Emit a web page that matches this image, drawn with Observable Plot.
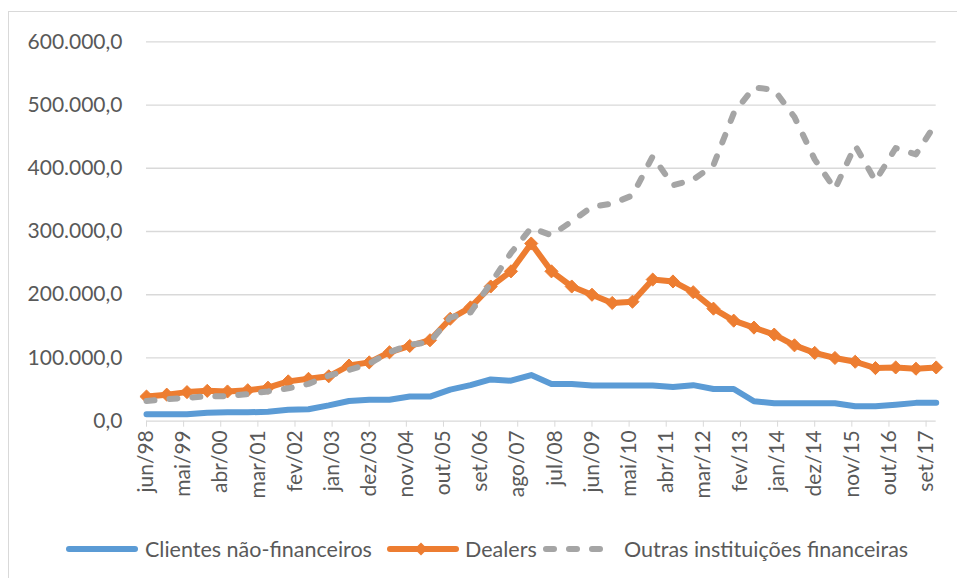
<!DOCTYPE html>
<html><head><meta charset="utf-8">
<script src="https://cdn.jsdelivr.net/npm/d3@7"></script>
<script src="https://cdn.jsdelivr.net/npm/@observablehq/plot@0.6"></script>
<style>
body{margin:0;background:#fff;font-family:Lato,sans-serif;width:957px;height:578px;overflow:hidden;position:relative;}
#frame{position:absolute;left:8px;top:11px;width:1000px;height:700px;border:1px solid #d9d9d9;box-sizing:border-box;}
#chart{position:absolute;left:0;top:0;}
#legend{position:absolute;top:533px;left:0;width:957px;height:32px;font-family:Lato,sans-serif;font-size:21.5px;color:#595959;}
#legend .it{position:absolute;top:0;height:32px;line-height:32px;white-space:nowrap;}
#legend svg{position:absolute;top:0;}
</style></head>
<body>
<div id="frame"></div>
<div id="chart"></div>
<div id="legend"></div>
<script>
const periods = ["jun/98","dez/98","jun/99","dez/99","jun/00","dez/00","jun/01","dez/01","jun/02","dez/02",
"jun/03","dez/03","jun/04","dez/04","jun/05","dez/05","jun/06","dez/06","jun/07","dez/07",
"jun/08","dez/08","jun/09","dez/09","jun/10","dez/10","jun/11","dez/11","jun/12","dez/12",
"jun/13","dez/13","jun/14","dez/14","jun/15","dez/15","jun/16","dez/16","jun/17","dez/17"];
const clientes = [11,11,11,13.5,14,14,15,18,19,25,32,34,34,39,39,50,57,66,64,73,
59,59,56.5,56.5,56.5,56.5,54,57,51,51,31.5,28.5,28.5,28.5,28.5,23.7,23.7,26,29,29].map(v=>v*1000);
const dealers = [39,42,46,48,47,49,53,63,67,71,88,93,109,119,128,162,180,213,237,281,
237,213,200,187,189,224,221,204,178,159,148,137,120,108,100,94,84,85,83,85].map(v=>v*1000);
const outras = [32,35,37,39.5,39.5,43,47,52,59,72,81,91,109,121,125,164,172,218,266,306,
294,316,339,344,357,419,373,382,405,487,528,524,481,414,367,436,380,432,422,472].map(v=>v*1000);
const tickLabels = ["jun/98","mai/99","abr/00","mar/01","fev/02","jan/03","dez/03","nov/04","out/05","set/06","ago/07",
"jul/08","jun/09","mai/10","abr/11","mar/12","fev/13","jan/14","dez/14","nov/15","out/16","set/17"];
const yTicks = [0,100000,200000,300000,400000,500000,600000];
const seriesNames = ["Clientes não-financeiros","Dealers","Outras instituições financeiras"];
const colors = ["#5b9bd5","#ed7d31","#a5a5a5"];

// month offsets: semiannual observations, tick labels every 11 months
const rows = (vals) => periods.map((p,i)=>({p, m:i*6, v:vals[i]}));
const tickPos = tickLabels.map((t,i)=>i*11);
const ptBR = d3.formatLocale({decimal:",",thousands:".",grouping:[3],currency:["R$",""]});
const fmt = ptBR.format(",.1f");

const H = 520;
const chart = Plot.plot({
  width:957, height:H,
  marginLeft:146, marginRight:957-935.7, marginTop:41.3, marginBottom:H-420.7,
  style:{fontFamily:"Lato, sans-serif", background:"transparent", overflow:"visible"},
  x:{type:"linear", domain:[0,234], label:null},
  y:{domain:[0,600000], label:null},
  marks:[
    Plot.gridY(yTicks,{stroke:"#d9d9d9", strokeOpacity:1, strokeWidth:1.3}),
    Plot.axisY(yTicks,{tickFormat:fmt, tickSize:0, tickPadding:24, fontSize:21, fill:"#595959", stroke:null, label:null}),
    Plot.axisX(tickPos,{tickFormat:(d)=>tickLabels[tickPos.indexOf(d)], tickRotate:-90, tickSize:6, tickPadding:3,
      fontSize:21, stroke:"#d9d9d9", fill:"#595959", label:null}),
    Plot.line(rows(clientes),{x:"m", y:"v", stroke:colors[0], strokeWidth:6, strokeLinejoin:"round", strokeLinecap:"round"}),
    Plot.line(rows(dealers),{x:"m", y:"v", stroke:colors[1], strokeWidth:6, strokeLinejoin:"round", strokeLinecap:"round"}),
    Plot.dot(rows(dealers),{x:"m", y:"v", symbol:"diamond2", r:5.9, fill:colors[1], stroke:colors[1], strokeWidth:1}),
    Plot.line(rows(outras),{x:"m", y:"v", stroke:colors[2], strokeWidth:6, strokeLinejoin:"round", strokeLinecap:"round", strokeDasharray:"8,15"})
  ]
});
chart.querySelectorAll("[aria-label='x-axis tick label'] text, [aria-label='y-axis tick label'] text").forEach(t=>t.setAttribute("fill","#595959"));
document.getElementById("chart").appendChild(chart);

// legend
const lg = document.getElementById("legend");
const items = [
  {sx:66, tx:145, kind:"solid"},
  {sx:387, tx:465, kind:"marker"},
  {sx:543, tx:624, kind:"dash"}
];
items.forEach((it,i)=>{
  const ns="http://www.w3.org/2000/svg";
  const s=document.createElementNS(ns,"svg");
  s.setAttribute("width",74); s.setAttribute("height",32);
  s.style.left=(it.sx-1)+"px";
  const l=document.createElementNS(ns,"line");
  l.setAttribute("x1",4); l.setAttribute("x2",70); l.setAttribute("y1",16); l.setAttribute("y2",16);
  l.setAttribute("stroke",colors[i]); l.setAttribute("stroke-width",6); l.setAttribute("stroke-linecap","round");
  if(it.kind==="dash") l.setAttribute("stroke-dasharray","8,15"), l.setAttribute("x1",4), l.setAttribute("x2",72);
  s.appendChild(l);
  if(it.kind==="marker"){
    const p=document.createElementNS(ns,"path");
    p.setAttribute("d","M35,9.5L41.5,16L35,22.5L28.5,16Z"); p.setAttribute("fill",colors[i]);
    s.appendChild(p);
  }
  lg.appendChild(s);
  const d=document.createElement("div"); d.className="it"; d.style.left=it.tx+"px"; d.textContent=seriesNames[i];
  lg.appendChild(d);
});
</script>
</body></html>
